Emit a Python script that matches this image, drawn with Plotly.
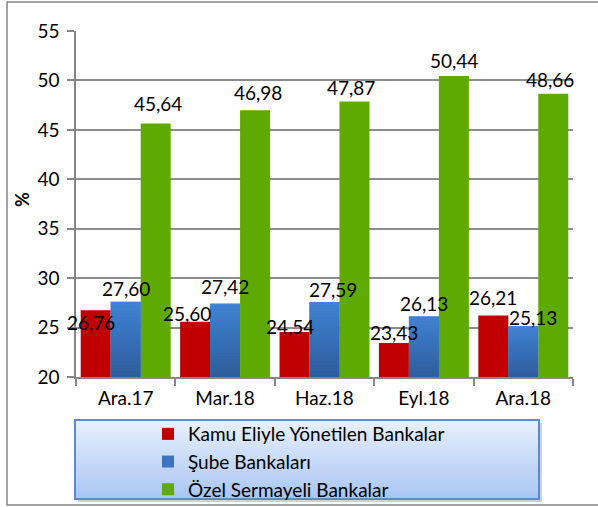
import plotly.graph_objects as go

# Quarter labels and bank-group ratios (%)
periods = ["Ara.17", "Mar.18", "Haz.18", "Eyl.18", "Ara.18"]
kamu = [26.76, 25.60, 24.54, 23.43, 26.21]
sube = [27.60, 27.42, 27.59, 26.13, 25.13]
ozel = [45.64, 46.98, 47.87, 50.44, 48.66]

series_names = ["Kamu Eliyle Yönetilen Bankalar", "Şube Bankaları", "Özel Sermayeli Bankalar"]
series_values = [kamu, sube, ozel]
series_colors = ["#c00000", "#3a74c0", "#5faa00"]

# value-label nudges in pixels (dx, dy) per series
label_dx = [[-5, -8, -5, 0, 0], [0, 0, 8, 0, 10], [2, 3, -3, 0, -3]]
label_dy = [[-12, 8, 6, 11, 18], [13, 17, 12, 13, 9], [20, 18, 14, 16, 14]]

W, H = 598, 507
L, R, T, B = 76, 25, 31, 130
PW, PH = W - L - R, H - T - B
BARGAP = 0.095
YMIN, YMAX = 20, 55
FONT = "Lato, Carlito, Calibri, sans-serif"


def px_x(p):
    return (p - L) / PW


def px_y(p):
    return (H - B - p) / PH


def lerp(c1, c2, t):
    return tuple(int(round(a + (b - a) * t)) for a, b in zip(c1, c2))


fig = go.Figure()
for name, vals, col in zip(series_names, series_values, series_colors):
    fig.add_trace(go.Bar(x=periods, y=vals, name=name, marker=dict(color=col, line=dict(width=0))))

annotations = []
bw = (1 - BARGAP) / 3
for k, vals in enumerate(series_values):
    for i, v in enumerate(vals):
        annotations.append(dict(
            x=i + (k - 1) * bw, y=v, xref="x", yref="y",
            text=f"{v:.2f}".replace(".", ","), showarrow=False,
            xanchor="center", yanchor="middle",
            xshift=label_dx[k][i], yshift=label_dy[k][i],
            font=dict(family=FONT, size=19, color="#000000"),
        ))

annotations.append(dict(
    x=px_x(22), y=px_y(200), xref="paper", yref="paper", text="<b>%</b>",
    xanchor="center", yanchor="middle",
    textangle=-90, showarrow=False, font=dict(family=FONT, size=18, color="#000000"),
))

shapes = [
    # chart frame
    dict(type="rect", xref="paper", yref="paper",
         x0=px_x(7), x1=px_x(603), y0=px_y(505), y1=px_y(2),
         line=dict(color="#868686", width=1.5), fillcolor="rgba(0,0,0,0)", layer="below"),
    # legend box shadow
    dict(type="rect", xref="paper", yref="paper",
         x0=px_x(78), x1=px_x(542), y0=px_y(502), y1=px_y(423),
         line=dict(width=0), fillcolor="rgba(0,0,0,0.18)", layer="below"),
]

# vertical shading on the Şube bars: lighter at the top, darker at the base
blue_top, blue_bot = (64, 131, 212), (45, 92, 154)
ns = 24
for i, v in enumerate(sube):
    xc = i
    for j in range(ns):
        ya = YMIN + (v - YMIN) * j / ns
        yb = YMIN + (v - YMIN) * (j + 1) / ns
        c = lerp(blue_bot, blue_top, (j + 0.5) / ns)
        shapes.append(dict(type="rect", xref="x", yref="y",
                           x0=xc - bw / 2, x1=xc + bw / 2, y0=ya, y1=yb + (0.02 if j < ns - 1 else 0),
                           line=dict(width=0), fillcolor=f"rgb{c}", layer="above"))

# legend box: vertical gradient from pale to light blue
x0b, x1b, y0b, y1b = 75, 539, 420, 499
n = 40
top_c, bot_c = (232, 240, 252), (168, 198, 244)
for j in range(n):
    c = lerp(top_c, bot_c, j / (n - 1))
    ya = y0b + (y1b - y0b) * j / n
    yb = y0b + (y1b - y0b) * (j + 1) / n
    shapes.append(dict(type="rect", xref="paper", yref="paper",
                       x0=px_x(x0b), x1=px_x(x1b), y0=px_y(yb + 0.5), y1=px_y(ya),
                       line=dict(width=0), fillcolor=f"rgb{c}", layer="below"))
shapes.append(dict(type="rect", xref="paper", yref="paper",
                   x0=px_x(x0b), x1=px_x(x1b), y0=px_y(y1b), y1=px_y(y0b),
                   line=dict(color="#5a8ad0", width=2), fillcolor="rgba(0,0,0,0)", layer="below"))

fig.update_layout(
    template="none",
    width=W, height=H,
    margin=dict(l=L, r=R, t=T, b=B, pad=0, autoexpand=False),
    paper_bgcolor="white", plot_bgcolor="white",
    barmode="group", bargap=BARGAP, bargroupgap=0,
    font=dict(family=FONT, size=19, color="#000000"),
    showlegend=True,
    legend=dict(
        x=px_x(148), y=px_y(415), xanchor="left", yanchor="top",
        bgcolor="rgba(0,0,0,0)", borderwidth=0,
        font=dict(family=FONT, size=19, color="#000000"),
        tracegroupgap=0, itemwidth=30,
    ),
    xaxis=dict(
        range=[-0.5, 4.5], automargin=False,
        showline=True, linecolor="#868686", linewidth=1.5,
        ticks="outside", ticklen=7, tickcolor="#868686", tickwidth=1.5,
        tickson="boundaries", showgrid=False, ticklabelstandoff=3,
        tickfont=dict(family=FONT, size=19),
    ),
    yaxis=dict(
        range=[YMIN, YMAX], dtick=5, tickformat="d", automargin=False,
        showline=True, linecolor="#868686", linewidth=1.5,
        ticks="outside", ticklen=7, tickcolor="#868686", tickwidth=1.5,
        showgrid=True, gridcolor="#8c8c8c", gridwidth=1.5,
        zeroline=False, ticklabelstandoff=4, tickfont=dict(family=FONT, size=19),
    ),
    annotations=annotations,
    shapes=shapes,
)

fig.write_html("out.html")
